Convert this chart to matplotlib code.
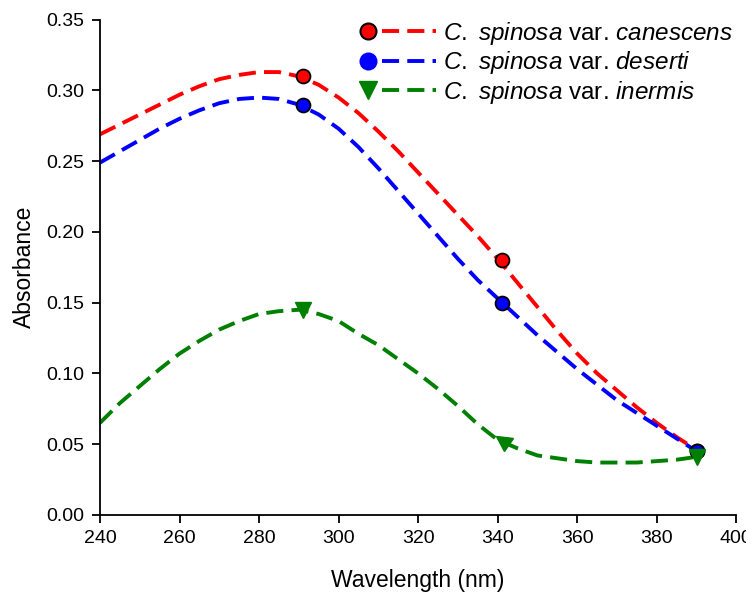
import matplotlib
matplotlib.use('Agg')
import matplotlib.pyplot as plt
from matplotlib.lines import Line2D
from matplotlib.legend_handler import HandlerBase
from matplotlib.markers import MarkerStyle
from matplotlib.transforms import Affine2D
from matplotlib.ticker import FormatStrFormatter

plt.rcParams['font.family'] = ['Liberation Sans', 'DejaVu Sans']
plt.rcParams['mathtext.fontset'] = 'custom'
plt.rcParams['mathtext.rm'] = 'Liberation Sans'
plt.rcParams['mathtext.it'] = 'Liberation Sans:italic'

# Measured points
wl_pts = [291, 341, 390]
canescens_pts = [0.310, 0.180, 0.045]
deserti_pts = [0.290, 0.150, 0.045]
inermis_pts = [0.145, 0.053, 0.041]

# Fitted curves (every 5 nm)
wl_curve = [240, 245, 250, 255, 260, 265, 270, 275, 280, 285, 290, 295, 300, 305, 310, 315,
            320, 325, 330, 335, 340, 345, 350, 355, 360, 365, 370, 375, 380, 385, 390]
canescens_curve = [0.269, 0.276, 0.283, 0.290, 0.297, 0.303, 0.308, 0.311, 0.313, 0.313,
                   0.310, 0.304, 0.295, 0.284, 0.271, 0.257, 0.242, 0.227, 0.212, 0.197,
                   0.181, 0.164, 0.147, 0.130, 0.114, 0.100, 0.088, 0.076, 0.065, 0.055, 0.046]
deserti_curve = [0.249, 0.257, 0.265, 0.273, 0.280, 0.286, 0.291, 0.294, 0.295, 0.294,
                 0.290, 0.283, 0.273, 0.260, 0.245, 0.229, 0.213, 0.197, 0.181, 0.166,
                 0.153, 0.140, 0.127, 0.115, 0.103, 0.092, 0.081, 0.072, 0.063, 0.054, 0.045]
inermis_curve = [0.065, 0.079, 0.091, 0.103, 0.114, 0.123, 0.131, 0.137, 0.142, 0.144,
                 0.145, 0.142, 0.137, 0.128, 0.120, 0.110, 0.100, 0.089, 0.077, 0.064,
                 0.053, 0.047, 0.042, 0.040, 0.038, 0.037, 0.037, 0.037, 0.038, 0.039, 0.041]

dash = (0, (4.4, 2.1))
lw = 2.8


class MarkerThenLine(HandlerBase):
    def create_artists(self, legend, orig_handle, xdescent, ydescent,
                       width, height, fontsize, trans):
        mk, ln = orig_handle
        y = height / 2 - ydescent
        m = Line2D([0.33 * fontsize - xdescent], [y], marker=mk.get_marker(),
                   markersize=mk.get_markersize(), markerfacecolor=mk.get_markerfacecolor(),
                   markeredgecolor=mk.get_markeredgecolor(),
                   markeredgewidth=mk.get_markeredgewidth(), linestyle='none')
        l = Line2D([0.9 * fontsize - xdescent, width - xdescent], [y, y],
                   color=ln.get_color(), linewidth=ln.get_linewidth(), linestyle=dash)
        m.set_transform(trans)
        l.set_transform(trans)
        return [l, m]


fig = plt.figure(figsize=(7.46, 5.98), dpi=100)
ax = fig.add_axes([0.134, 0.139, 0.853, 0.828])

series = [
    ('canescens', canescens_curve, canescens_pts, '#ff0000', 'o', 'black'),
    ('deserti', deserti_curve, deserti_pts, '#0000ff', 'o', 'black'),
    ('inermis', inermis_curve, inermis_pts, '#008000', 'v', '#008000'),
]

handles = []
labels = []
for name, curve, pts, color, marker, edge in series:
    ln, = ax.plot(wl_curve, curve, color=color, lw=lw, linestyle=dash, zorder=2)
    if marker == 'v':
        # triangles are oriented along the curve
        ax.plot(wl_pts[0], pts[0], 'v', color=color, ms=11, zorder=3)
        rot = MarkerStyle('v', transform=Affine2D().rotate_deg(-125))
        ax.plot(wl_pts[1], pts[1], marker=rot, color=color, ms=11, linestyle='none', zorder=3)
        ax.plot(wl_pts[2], pts[2], 'v', color=color, ms=11, zorder=3)
        mk = Line2D([], [], marker='v', markersize=13, markerfacecolor=color,
                    markeredgecolor=color, markeredgewidth=1, linestyle='none')
    else:
        ax.plot(wl_pts, pts, marker, color=color, ms=10, mec=edge, mew=1.3, zorder=3)
        mk = Line2D([], [], marker='o', markersize=11.5, markerfacecolor=color,
                    markeredgecolor=edge if color == '#ff0000' else color,
                    markeredgewidth=1.5, linestyle='none')
    handles.append((mk, ln))
    labels.append(r'$\mathit{C.\ spinosa}$ var. $\mathit{' + name + '}$')

leg = ax.legend(handles, labels, handler_map={tuple: MarkerThenLine()},
                loc='upper right', bbox_to_anchor=(733 / 746, 1 - 20 / 598),
                bbox_transform=fig.transFigure, frameon=False, borderaxespad=0,
                borderpad=0, fontsize=17.5, handlelength=3.1, handletextpad=0.3,
                labelspacing=0.1)

ax.set_xlim(240, 400)
ax.set_ylim(0, 0.35)
ax.set_xticks(range(240, 401, 20))
ax.set_yticks([0, 0.05, 0.10, 0.15, 0.20, 0.25, 0.30, 0.35])
ax.yaxis.set_major_formatter(FormatStrFormatter('%.2f'))
ax.spines['top'].set_visible(False)
ax.spines['right'].set_visible(False)
ax.spines['left'].set_linewidth(1.3)
ax.spines['bottom'].set_linewidth(1.3)
ax.tick_params(direction='out', length=5.5, width=1.3, labelsize=14, pad=5.5)
ax.set_xlabel('Wavelength (nm)', fontsize=16.5, labelpad=16)
ax.set_ylabel('Absorbance', fontsize=16.5, labelpad=8)

plt.savefig('out.png', dpi=100)
